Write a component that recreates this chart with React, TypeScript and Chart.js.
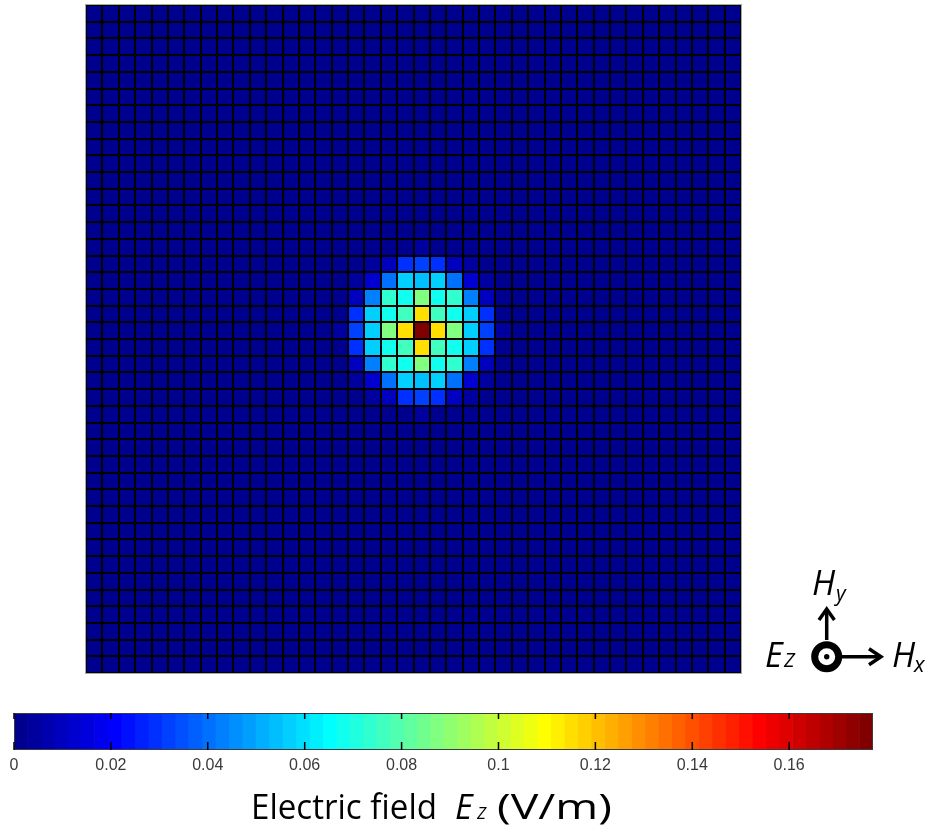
import { useEffect, useRef } from "react";
import { Chart, registerables } from "chart.js";

Chart.register(...registerables);

// ---------------- data ----------------
const GRID_ROWS = 40;
const GRID_COLS = 40;
// patch of non-background values; top-left cell of the patch in the grid
const PATCH_TOP_ROW = 14;
const PATCH_LEFT_COL = 15;
const patchRow14 = [0, 0, 0, 0, 0, 0.003, 0, 0, 0, 0, 0];
const patchRow15 = [0, 0, 0.005, 0.0105, 0.029, 0.0315, 0.029, 0.0105, 0.005, 0, 0];
const patchRow16 = [0, 0.005, 0.0125, 0.04, 0.056, 0.054, 0.056, 0.04, 0.0125, 0.005, 0];
const patchRow17 = [0, 0.0105, 0.043, 0.0731, 0.0676, 0.0869, 0.0676, 0.0731, 0.043, 0.0105, 0];
const patchRow18 = [0, 0.029, 0.057, 0.0676, 0.0759, 0.1145, 0.0759, 0.0676, 0.057, 0.029, 0];
const patchRow19 = [0.003, 0.0315, 0.057, 0.0869, 0.1145, 0.1773, 0.1145, 0.0869, 0.057, 0.0315, 0.003];
const patchRow20 = [0, 0.029, 0.057, 0.0676, 0.0759, 0.1145, 0.0759, 0.0676, 0.057, 0.029, 0];
const patchRow21 = [0, 0.0105, 0.043, 0.0731, 0.0676, 0.0869, 0.0676, 0.0731, 0.043, 0.0105, 0];
const patchRow22 = [0, 0.005, 0.0125, 0.04, 0.056, 0.054, 0.056, 0.04, 0.0125, 0.005, 0];
const patchRow23 = [0, 0, 0.005, 0.0105, 0.029, 0.0315, 0.029, 0.0105, 0.005, 0, 0];
const patchRow24 = [0, 0, 0, 0, 0, 0.003, 0, 0, 0, 0, 0];
const patchRows = [
  patchRow14, patchRow15, patchRow16, patchRow17, patchRow18, patchRow19,
  patchRow20, patchRow21, patchRow22, patchRow23, patchRow24,
];
const BACKGROUND_VALUE = 0;

const colorbarTicks = [0, 0.02, 0.04, 0.06, 0.08, 0.1, 0.12, 0.14, 0.16];
const colorbarTickLabels = ["0", "0.02", "0.04", "0.06", "0.08", "0.1", "0.12", "0.14", "0.16"];
const COLOR_LEVELS = 64;

// ---------------- helpers ----------------
function buildField(): number[][] {
  const m: number[][] = [];
  for (let r = 0; r < GRID_ROWS; r++) {
    const row: number[] = [];
    for (let c = 0; c < GRID_COLS; c++) row.push(BACKGROUND_VALUE);
    m.push(row);
  }
  patchRows.forEach((pr, i) => {
    pr.forEach((v, j) => {
      m[PATCH_TOP_ROW + i][PATCH_LEFT_COL + j] = v;
    });
  });
  return m;
}

// MATLAB jet(m)
function jetMap(m: number): string[] {
  const n = Math.ceil(m / 4);
  const u: number[] = [];
  for (let i = 1; i <= n; i++) u.push(i / n);
  for (let i = 1; i < n; i++) u.push(1);
  for (let i = n; i >= 1; i--) u.push(i / n);
  const gOff = Math.ceil(n / 2) - (m % 4 === 1 ? 1 : 0);
  const R = new Array(m).fill(0);
  const G = new Array(m).fill(0);
  const B = new Array(m).fill(0);
  for (let k = 0; k < u.length; k++) {
    const g = gOff + k + 1; // 1-based
    const r = g + n;
    const b = g - n;
    if (g >= 1 && g <= m) G[g - 1] = u[k];
    if (r >= 1 && r <= m) R[r - 1] = u[k];
    if (b >= 1 && b <= m) B[b - 1] = u[k];
  }
  const out: string[] = [];
  for (let i = 0; i < m; i++) {
    out.push(
      `rgb(${Math.round(R[i] * 255)},${Math.round(G[i] * 255)},${Math.round(B[i] * 255)})`
    );
  }
  return out;
}

const JET = jetMap(COLOR_LEVELS);

function colorFor(v: number, vmin: number, vmax: number): string {
  let idx = Math.floor(((v - vmin) / (vmax - vmin)) * COLOR_LEVELS);
  if (idx < 0) idx = 0;
  if (idx > COLOR_LEVELS - 1) idx = COLOR_LEVELS - 1;
  return JET[idx];
}

const FONT = "'Open Sans', 'Noto Sans', sans-serif";

export default function App() {
  const heatRef = useRef<HTMLCanvasElement | null>(null);
  const barRef = useRef<HTMLCanvasElement | null>(null);

  useEffect(() => {
    const field = buildField();
    let vmin = Infinity;
    let vmax = -Infinity;
    field.forEach((row) => row.forEach((v) => {
      if (v < vmin) vmin = v;
      if (v > vmax) vmax = v;
    }));

    const colLabels = field[0].map((_, c) => String(c + 1));
    const heatDatasets = field.map((row, r) => ({
      label: `row ${r + 1}`,
      data: row.map(() => 1),
      backgroundColor: row.map((v) => colorFor(v, vmin, vmax)),
      borderWidth: 0,
      barPercentage: 1,
      categoryPercentage: 1,
    }));

    const gridLines = {
      display: true,
      color: "#000000",
      lineWidth: 2,
      drawTicks: false,
      z: 1,
    };

    const heat = new Chart(heatRef.current!, {
      type: "bar",
      data: { labels: colLabels, datasets: heatDatasets },
      options: {
        animation: false,
        responsive: false,
        maintainAspectRatio: false,
        layout: { padding: 0 },
        plugins: { legend: { display: false }, tooltip: { enabled: false } },
        scales: {
          x: {
            type: "category",
            stacked: true,
            offset: true,
            grid: { ...gridLines, offset: true },
            ticks: { display: false },
            border: { display: false },
          },
          y: {
            type: "linear",
            stacked: true,
            min: 0,
            max: GRID_ROWS,
            reverse: true,
            grid: gridLines,
            ticks: { display: false, stepSize: 1 },
            border: { display: false },
          },
        },
      },
    });

    const step = (vmax - vmin) / COLOR_LEVELS;
    const barDatasets = JET.map((col, i) => ({
      label: `level ${i + 1}`,
      data: [step],
      backgroundColor: col,
      borderWidth: 0,
      barPercentage: 1,
      categoryPercentage: 1,
    }));

    const framePlugin = {
      id: "cbframe",
      afterDatasetsDraw(chart: any) {
        const { ctx, chartArea } = chart;
        const xs = chart.scales.x;
        ctx.save();
        ctx.strokeStyle = "#3c3c3c";
        ctx.lineWidth = 1;
        ctx.strokeRect(chartArea.left + 0.5, chartArea.top + 0.5,
          chartArea.right - chartArea.left - 1, chartArea.bottom - chartArea.top - 1);
        ctx.strokeStyle = "#000";
        ctx.lineWidth = 1.5;
        xs.ticks.forEach((t: any) => {
          const px = xs.getPixelForValue(t.value);
          ctx.beginPath();
          ctx.moveTo(px, chartArea.top);
          ctx.lineTo(px, chartArea.top + 6);
          ctx.moveTo(px, chartArea.bottom - 8);
          ctx.lineTo(px, chartArea.bottom);
          ctx.stroke();
        });
        ctx.restore();
      },
    };

    const bar = new Chart(barRef.current!, {
      type: "bar",
      data: { labels: ["Ez"], datasets: barDatasets },
      options: {
        indexAxis: "y",
        animation: false,
        responsive: false,
        maintainAspectRatio: false,
        layout: { padding: { left: 14, right: 60, top: 13, bottom: 0 } },
        plugins: { legend: { display: false }, tooltip: { enabled: false } },
        scales: {
          y: { display: false, stacked: true },
          x: {
            type: "linear",
            stacked: true,
            min: vmin,
            max: vmax,
            position: "bottom",
            grid: { display: false, drawTicks: false },
            border: { display: false },
            afterBuildTicks: (scale: any) => {
              scale.ticks = colorbarTicks.map((v) => ({ value: v }));
            },
            afterFit: (scale: any) => {
              scale.height = 34;
            },
            ticks: {
              autoSkip: false,
              maxRotation: 0,
              padding: 6,
              color: "#3a3a3a",
              font: { family: "'Liberation Sans', Arial, sans-serif", size: 16 },
              callback: (_v: any, i: number) => colorbarTickLabels[i],
            },
          },
        },
      },
      plugins: [framePlugin],
    });

    return () => {
      heat.destroy();
      bar.destroy();
    };
  }, []);

  return (
    <div style={{ position: "absolute", left: 0, top: 0, width: 933, height: 834, background: "#fff", overflow: "hidden" }}>
      <div style={{ position: "absolute", left: 85, top: 4, width: 657, height: 670, border: "1px solid #a8a8a8", boxSizing: "border-box" }} />
      <canvas ref={heatRef} width={655} height={668}
        style={{ position: "absolute", left: 86, top: 5, width: 655, height: 668, display: "block" }} />
      <canvas ref={barRef} width={933} height={84}
        style={{ position: "absolute", left: 0, top: 700, width: 933, height: 84, display: "block" }} />
      <svg width={933} height={834} style={{ position: "absolute", left: 0, top: 0, pointerEvents: "none" }}>
        <g fontFamily={FONT} fill="#000">
          <text x={251} y={819} fontSize={34} textLength={186} lengthAdjust="spacingAndGlyphs">Electric field</text>
          <text x={455} y={819} fontSize={34} fontStyle="italic">E</text>
          <text x={477} y={819} fontSize={17} fontStyle="italic">Z</text>
          <text x={497} y={819} fontSize={35} textLength={115} lengthAdjust="spacingAndGlyphs">(V/m)</text>

          <text x={812} y={595} fontSize={34} fontStyle="italic">H</text>
          <text x={836} y={601} fontSize={21} fontStyle="italic">y</text>
          <text x={765} y={667} fontSize={34} fontStyle="italic">E</text>
          <text x={784} y={667} fontSize={20} fontStyle="italic">Z</text>
          <text x={892} y={667} fontSize={34} fontStyle="italic">H</text>
          <text x={914} y={672} fontSize={22} fontStyle="italic">x</text>
        </g>
        <g stroke="#000" fill="none" strokeLinecap="butt">
          <line x1={826.7} y1={640} x2={826.7} y2={611} strokeWidth={3.5} />
          <polyline points="819,620 826.7,609 834.4,620" strokeWidth={3.5} />
          <circle cx={826.7} cy={656.7} r={12} strokeWidth={7} />
          <line x1={842} y1={656.7} x2={879} y2={656.7} strokeWidth={3.5} />
          <polyline points="869,648.7 881,656.7 869,664.7" strokeWidth={3.5} />
        </g>
        <circle cx={826.7} cy={656.7} r={2.7} fill="#000" />
      </svg>
    </div>
  );
}
